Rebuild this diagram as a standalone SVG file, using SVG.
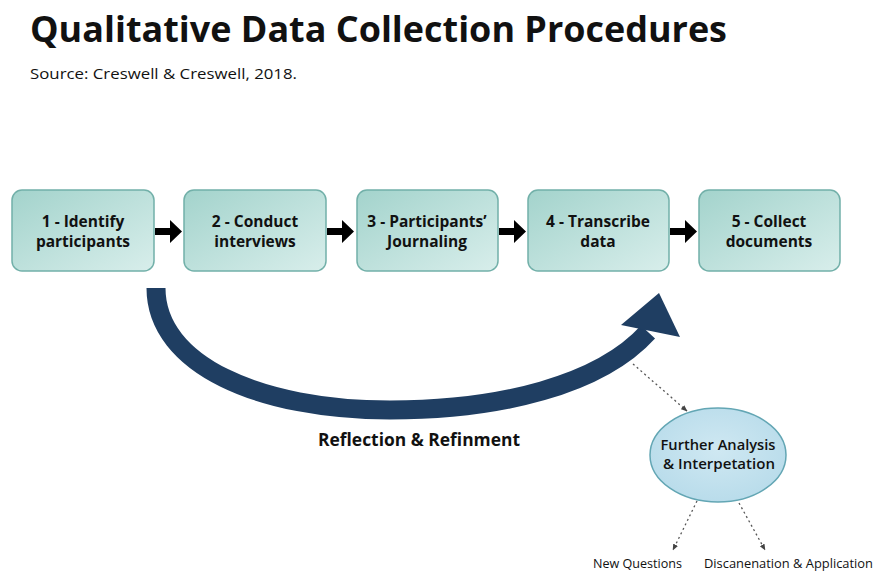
<svg xmlns="http://www.w3.org/2000/svg" width="875" height="571" viewBox="0 0 875 571">
  <defs>
    <linearGradient id="boxFill" x1="0" y1="0" x2="1" y2="1">
      <stop offset="0" stop-color="#a3d3cc"/>
      <stop offset="1" stop-color="#d8eeeb"/>
    </linearGradient>
    <radialGradient id="ovalFill" cx="0.5" cy="0.45" r="0.6">
      <stop offset="0" stop-color="#cfe8f2"/>
      <stop offset="1" stop-color="#b7dbea"/>
    </radialGradient>
    <marker id="dotHead" viewBox="0 0 10 10" refX="9" refY="5" markerWidth="5" markerHeight="5" orient="auto">
      <path d="M0,1 L10,5 L0,9 Z" fill="#444"/>
    </marker>
    <style>
      .box { fill: url(#boxFill); stroke: #72b0a9; stroke-width: 1.5; }
      .boxText { font-family: "Open Sans", "Noto Sans", sans-serif; font-weight: 700; font-size: 15.5px; fill: #111; text-anchor: middle; }
      .step { fill: #000; }
      .dotted { fill: none; stroke: #555; stroke-width: 1.3; stroke-dasharray: 2 3; marker-end: url(#dotHead); }
      .label { font-family: "Open Sans", "Noto Sans", sans-serif; fill: #111; }
    </style>
  </defs>

  <rect width="875" height="571" fill="#ffffff"/>

  <!-- heading -->
  <text x="30" y="42" class="label" font-size="36" font-weight="700" textLength="697" lengthAdjust="spacingAndGlyphs" fill="#000">Qualitative Data Collection Procedures</text>
  <text x="30" y="79" class="label" font-size="15" textLength="267" lengthAdjust="spacingAndGlyphs">Source: Creswell &amp; Creswell, 2018.</text>

  <!-- process steps -->
  <g id="step1">
    <rect class="box" x="12" y="190" width="142" height="81" rx="10"/>
    <text class="boxText" x="83" y="227">1 - Identify</text>
    <text class="boxText" x="83" y="247">participants</text>
  </g>
  <g id="step2">
    <rect class="box" x="184" y="190" width="142" height="81" rx="10"/>
    <text class="boxText" x="255" y="227">2 - Conduct</text>
    <text class="boxText" x="255" y="247">interviews</text>
  </g>
  <g id="step3">
    <rect class="box" x="357" y="190" width="141" height="81" rx="10"/>
    <text class="boxText" x="427" y="227">3 - Participants’</text>
    <text class="boxText" x="427" y="247">Journaling</text>
  </g>
  <g id="step4">
    <rect class="box" x="528" y="190" width="141" height="81" rx="10"/>
    <text class="boxText" x="598" y="227">4 - Transcribe</text>
    <text class="boxText" x="598" y="247">data</text>
  </g>
  <g id="step5">
    <rect class="box" x="699" y="190" width="141" height="81" rx="10"/>
    <text class="boxText" x="769" y="227">5 - Collect</text>
    <text class="boxText" x="769" y="247">documents</text>
  </g>

  <g id="furtherAnalysis">
    <ellipse cx="718" cy="455" rx="68" ry="47" fill="url(#ovalFill)" stroke="#63a6b4" stroke-width="1.5"/>
    <text class="label" x="718" y="450" font-size="14.5" font-weight="600" text-anchor="middle" textLength="115" lengthAdjust="spacingAndGlyphs">Further Analysis</text>
    <text class="label" x="719" y="469" font-size="14.5" font-weight="600" text-anchor="middle" textLength="112" lengthAdjust="spacingAndGlyphs">&amp; Interpetation</text>
  </g>

  <g id="newQuestions">
    <text class="label" x="593" y="568" font-size="12" textLength="89" lengthAdjust="spacingAndGlyphs">New Questions</text>
  </g>
  <g id="dissemination">
    <text class="label" x="704" y="568" font-size="12" textLength="169" lengthAdjust="spacingAndGlyphs">Discanenation &amp; Application</text>
  </g>

  <!-- connectors -->
  <g id="connectors">
    <path class="step" d="M155,228 H170 V220 L182,231.5 L170,243 V235 H155 Z"/>
    <path class="step" d="M327,228 H342 V220 L354,231.5 L342,243 V235 H327 Z"/>
    <path class="step" d="M499,228 H514 V220 L526,231.5 L514,243 V235 H499 Z"/>
    <path class="step" d="M670,228 H685 V220 L697,231.5 L685,243 V235 H670 Z"/>

    <!-- reflection loop -->
    <path d="M156,288 C156,365 260,410 390,410 C500,410 600,385 648,332" fill="none" stroke="#1f3e62" stroke-width="19"/>
    <polygon points="659,293 680,337 621,325" fill="#1f3e62"/>
    <text class="label" x="318" y="446" font-size="17.5" font-weight="700" textLength="202" lengthAdjust="spacingAndGlyphs">Reflection &amp; Refinment</text>

    <path class="dotted" d="M633,364 L687,411"/>
    <path class="dotted" d="M697,501 L673,550"/>
    <path class="dotted" d="M739,503 L765,550"/>
  </g>
</svg>
